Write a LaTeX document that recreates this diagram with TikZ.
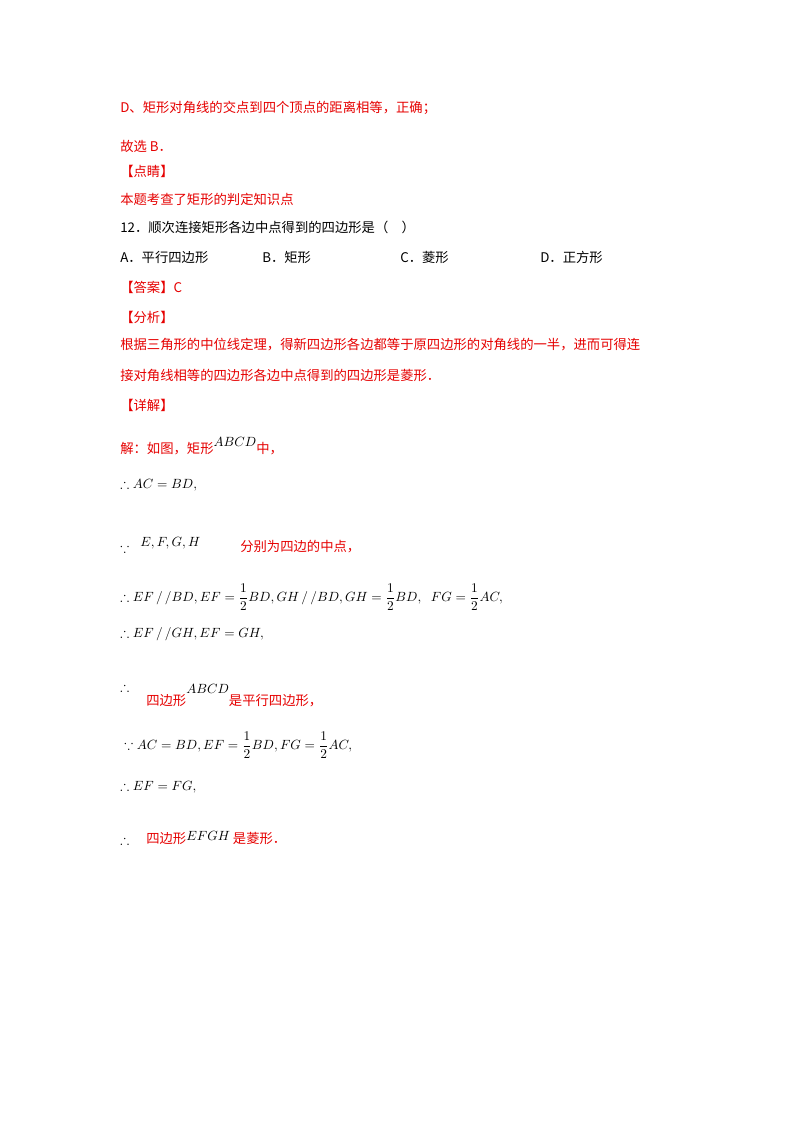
\documentclass[tikz,border=0pt]{standalone}
\usepackage{amsmath,amssymb}
\usepackage{fontspec}
\setmainfont{Liberation Serif}
\newfontfamily\cjk{Noto Sans CJK SC}
\definecolor{rd}{RGB}{230,0,0}
\begin{document}
\begin{tikzpicture}[x=0.75pt,y=-0.75pt,
  t/.style={anchor=west,inner sep=0pt,font=\cjk\fontsize{10}{12}\selectfont},
  r/.style={t,text=rd}]
\useasboundingbox[fill=white] (0,0) rectangle (800,1132);
\node[r] (l1) at (120,108) {D、矩形对角线的交点到四个顶点的距离相等，正确；};
\node[r] (l2) at (120,146) {故选 B．};
\node[r] (l3) at (120,171) {【点睛】};
\node[r] (l4) at (120,199) {本题考查了矩形的判定知识点};
\node[t] (l5) at (120,227) {12．顺次连接矩形各边中点得到的四边形是（　）};
\node[t] (oa) at (120,257) {A．平行四边形};
\node[t] (ob) at (262,257) {B．矩形};
\node[t] (oc) at (400,257) {C．菱形};
\node[t] (od) at (540,257) {D．正方形};
\node[r] (l6) at (120,287) {【答案】C};
\node[r] (l7) at (120,317) {【分析】};
\node[r] (l8) at (120,345) {根据三角形的中位线定理，得新四边形各边都等于原四边形的对角线的一半，进而可得连};
\node[r] (l9) at (120,375) {接对角线相等的四边形各边中点得到的四边形是菱形．};
\node[r] (l10) at (120,405) {【详解】};
\node[r] (l11) at (120,446) {解：如图，矩形\raisebox{5pt}{\normalfont\color{black}$ABCD$}中，};
\node[t,font=\normalsize] (m1) at (120,485) {$\therefore AC=BD,$};
\node[t,font=\normalsize] (m2) at (120,545) {$\because\;\;\raisebox{5pt}{$E,F,G,H$}$};
\node[r] (m2b) at (240,547) {分别为四边的中点，};
\node[t,font=\normalsize] (m3) at (120,597) {$\therefore EF\,/\,/BD, EF=\dfrac12 BD, GH\,/\,/BD, GH=\dfrac12 BD,\;\;FG=\dfrac12 AC,$};
\node[t,font=\normalsize] (m4) at (120,634) {$\therefore EF\,/\,/GH, EF=GH,$};
\node[t,font=\normalsize] (m5) at (120,687) {$\therefore$};
\node[r] (m5b) at (146,696) {四边形\raisebox{9pt}{\normalfont\color{black}$ABCD$}是平行四边形，};
\node[t,font=\normalsize] (m6) at (124,745) {$\because AC=BD, EF=\dfrac12 BD, FG=\dfrac12 AC,$};
\node[t,font=\normalsize] (m7) at (120,787) {$\therefore EF=FG,$};
\node[t,font=\normalsize] (m8) at (120,840) {$\therefore$};
\node[r] (m8b) at (146,838) {四边形\raisebox{2pt}{\normalfont\color{black}$EFGH$} 是菱形．};
\end{tikzpicture}
\end{document}
